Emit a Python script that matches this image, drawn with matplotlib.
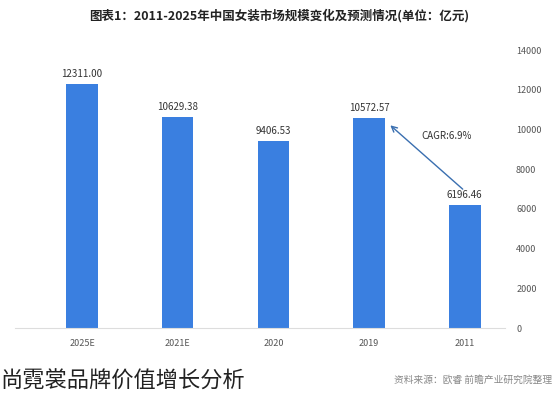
import matplotlib

matplotlib.use("Agg")
import matplotlib.pyplot as plt

plt.rcParams["font.family"] = ["Noto Sans CJK SC", "DejaVu Sans"]

years = ["2025E", "2021E", "2020", "2019", "2011"]
values = [12311.00, 10629.38, 9406.53, 10572.57, 6196.46]
y_ticks = [0, 2000, 4000, 6000, 8000, 10000, 12000, 14000]

fig = plt.figure(figsize=(5.58, 4.0), dpi=100)
ax = fig.add_axes([15 / 558, 1 - 328 / 400, 490 / 558, 278 / 400])

x = range(len(years))
ax.bar(x, values, width=0.33, color="#3a7fe0")
for xi, v in zip(x, values):
    ax.text(xi, v + 250, f"{v:.2f}", ha="center", va="bottom", fontsize=7, color="#333333")

ax.set_xlim(-0.7, 4.42)
ax.set_ylim(0, 14000)
ax.set_xticks(list(x))
ax.set_xticklabels(years, fontsize=6.5, color="#555555")
ax.yaxis.tick_right()
ax.set_yticks(y_ticks)
ax.set_yticklabels([str(t) for t in y_ticks], fontsize=6.5, color="#555555")
ax.tick_params(length=0, pad=8)
for side in ["top", "left", "right"]:
    ax.spines[side].set_visible(False)
ax.spines["bottom"].set_color("#dddddd")

ax.annotate("", xy=(3.2, 10300), xytext=(4.0, 6900),
            arrowprops=dict(arrowstyle="->", color="#3a6fb0", lw=1))
ax.text(3.55, 9500, "CAGR:6.9%", fontsize=7, color="#333333")

fig.text(0.5, 1 - 16 / 400, "图表1：2011-2025年中国女装市场规模变化及预测情况(单位：亿元)",
         ha="center", va="center", fontsize=9, fontweight="bold", color="#222222")
fig.text(0.0, 1 - 381 / 400, "尚霓裳品牌价值增长分析", ha="left", va="center",
         fontsize=16, color="#222222")
fig.text(0.99, 1 - 380 / 400, "资料来源：欧睿 前瞻产业研究院整理", ha="right", va="center",
         fontsize=7, color="#888888")

fig.savefig("out.png", dpi=100)
